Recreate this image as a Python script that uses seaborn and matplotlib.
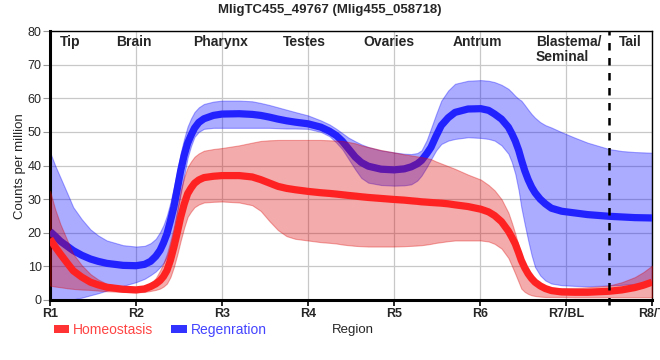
import matplotlib
matplotlib.use("Agg")
import matplotlib.pyplot as plt
import seaborn as sns
import pandas as pd
from matplotlib.patches import Patch

sns.set_theme(style="white")
plt.rcParams['font.family'] = ['Liberation Sans', 'DejaVu Sans']

# ---- data ----
pos = [1.0, 1.06, 1.12, 1.2, 1.27, 1.37, 1.47, 1.56, 1.66, 1.85,
       2.0, 2.1, 2.17, 2.23, 2.28, 2.32, 2.36, 2.40, 2.44, 2.48,
       2.52, 2.56, 2.60, 2.64, 2.68, 2.73, 2.79, 2.9, 3.0, 3.2,
       3.35, 3.45, 3.55, 3.65, 3.75, 3.85, 4.0, 4.15, 4.25, 4.33,
       4.4, 4.47, 4.55, 4.62, 4.7, 4.85, 5.0, 5.12, 5.2, 5.27,
       5.32, 5.38, 5.43, 5.49, 5.55, 5.63, 5.71, 5.86, 6.01, 6.1,
       6.17, 6.25, 6.33, 6.37, 6.41, 6.45, 6.48, 6.52, 6.56, 6.6,
       6.64, 6.7, 6.76, 6.83, 6.95, 7.1, 7.25, 7.5, 7.65, 7.8,
       7.9, 8.0]

regen_mean = [20.4, 19.0, 17.5, 16.0, 14.7, 13.3, 12.2, 11.5, 10.9, 10.3,
              10.2, 10.6, 11.5, 13.0, 14.8, 17.0, 19.7, 23.5, 27.6, 33.0,
              38.5, 43.0, 46.6, 49.0, 51.1, 52.8, 53.9, 54.9, 55.3, 55.4,
              55.2, 54.9, 54.4, 53.8, 53.3, 52.9, 52.4, 51.4, 50.2, 48.9,
              47.2, 45.0, 42.5, 40.9, 39.8, 38.9, 38.7, 39.0, 39.6, 40.5,
              41.5, 43.5, 45.4, 48.8, 51.9, 54.2, 55.8, 56.8, 56.9, 56.4,
              55.3, 53.8, 51.4, 49.5, 47.3, 44.5, 41.8, 38.5, 35.8, 33.6,
              31.9, 30.0, 28.6, 27.3, 26.4, 25.9, 25.4, 24.9, 24.7, 24.5,
              24.45, 24.4]
regen_upper = [44.0, 40.0, 36.5, 31.8, 27.6, 24.0, 21.0, 19.2, 17.7, 16.3,
               15.9, 16.1, 16.9, 18.2, 20.2, 22.3, 25.2, 29.0, 33.5, 38.5,
               43.8, 48.0, 51.6, 54.0, 55.9, 57.3, 58.3, 59.0, 59.3, 59.3,
               59.1, 58.6, 58.0, 57.3, 56.6, 55.9, 54.9, 53.4, 52.2, 50.9,
               49.6, 48.3, 47.2, 46.3, 45.5, 44.5, 43.9, 43.5, 43.4, 43.7,
               44.5, 47.5, 51.0, 55.3, 59.3, 62.3, 64.3, 65.2, 65.4, 65.2,
               64.8, 64.0, 62.8, 61.8, 60.7, 59.8, 59.3, 58.0, 56.6, 55.3,
               54.2, 52.9, 52.0, 51.3, 49.9, 48.3, 46.8, 44.9, 44.3, 44.0,
               43.9, 43.8]
regen_lower = [0.0, 0.0, 0.0, 0.0, 0.2, 0.7, 1.4, 2.0, 2.8, 4.2,
               5.3, 6.3, 7.4, 8.5, 9.8, 11.0, 12.8, 16.0, 20.7, 26.0,
               31.6, 37.0, 42.3, 45.8, 48.5, 50.0, 50.9, 51.2, 51.2, 51.2,
               51.2, 51.2, 51.2, 51.1, 51.0, 51.0, 50.9, 50.0, 48.7, 46.8,
               44.8, 42.0, 38.8, 36.3, 34.9, 34.2, 34.0, 34.1, 34.4, 35.5,
               37.0, 39.5, 41.8, 44.5, 46.4, 47.4, 47.9, 48.4, 48.2, 47.9,
               47.4, 46.0, 43.5, 41.0, 37.5, 32.5, 27.6, 22.5, 17.7, 13.3,
               9.8, 7.3, 5.8, 4.9, 4.4, 4.2, 4.1, 4.3, 4.5, 4.8,
               5.0, 5.2]

homeo_mean = [18.2, 15.8, 13.7, 11.0, 8.7, 6.8, 5.3, 4.5, 3.8, 3.2,
              3.0, 3.3, 4.0, 4.8, 5.8, 7.0, 8.8, 11.8, 15.7, 20.0,
              24.7, 28.5, 31.6, 33.3, 34.7, 35.7, 36.4, 36.8, 37.0, 37.0,
              36.6, 35.8, 34.8, 33.8, 33.2, 32.8, 32.3, 31.9, 31.7, 31.5,
              31.3, 31.1, 30.9, 30.7, 30.5, 30.2, 29.9, 29.7, 29.5, 29.35,
              29.2, 29.1, 29.0, 28.9, 28.8, 28.6, 28.3, 27.8, 27.0, 26.2,
              25.1, 23.3, 20.5, 18.7, 16.7, 14.0, 11.8, 9.6, 7.8, 6.4,
              5.3, 4.2, 3.4, 2.8, 2.4, 2.3, 2.3, 2.6, 3.0, 3.7,
              4.4, 5.3]
homeo_upper = [32.5, 27.0, 22.6, 17.8, 13.7, 10.3, 7.7, 6.1, 4.8, 4.0,
               3.8, 4.2, 5.0, 6.5, 8.8, 11.0, 13.8, 17.5, 21.7, 27.0,
               32.6, 36.5, 39.5, 41.2, 42.6, 43.6, 44.4, 44.9, 45.2, 46.0,
               46.8, 47.3, 47.5, 47.6, 47.6, 47.6, 47.6, 47.6, 47.5, 47.4,
               47.3, 47.0, 46.6, 46.0, 45.5, 44.6, 43.9, 43.3, 43.0, 42.7,
               42.5, 42.2, 41.9, 41.2, 40.6, 39.8, 39.0, 37.3, 35.8, 34.2,
               32.6, 30.0, 26.0, 23.0, 19.7, 16.0, 12.8, 10.0, 7.8, 6.2,
               4.9, 4.0, 3.6, 3.5, 3.5, 3.6, 3.8, 4.3, 5.3, 6.8,
               8.3, 10.2]
homeo_lower = [4.3, 4.0, 3.8, 3.5, 3.3, 3.1, 3.0, 2.8, 2.6, 2.4,
               2.3, 2.4, 2.7, 3.0, 3.4, 4.0, 4.9, 6.8, 9.8, 13.5,
               17.7, 21.5, 24.7, 26.3, 27.6, 28.4, 29.0, 29.2, 29.3, 29.0,
               28.2, 26.5, 23.5, 20.8, 19.0, 18.2, 17.7, 17.2, 17.0, 16.8,
               16.5, 16.3, 16.1, 16.0, 15.9, 15.9, 15.9, 16.0, 16.1, 16.2,
               16.3, 16.5, 16.7, 17.0, 17.2, 17.5, 17.7, 17.7, 17.7, 17.4,
               16.7, 15.3, 12.5, 10.2, 7.8, 5.3, 3.4, 2.4, 1.8, 1.4,
               1.2, 1.0, 0.9, 0.9, 0.9, 0.8, 0.8, 0.8, 0.8, 0.8,
               0.8, 0.8]

tick_pos = [1, 2, 3, 4, 5, 6, 7, 8]
tick_labels = ["R1", "R2", "R3", "R4", "R5", "R6", "R7/BL", "R8/T"]
region_names = ["Tip", "Brain", "Pharynx", "Testes", "Ovaries", "Antrum", "Blastema/\nSeminal", "Tail"]
region_pos = [1.23, 1.97, 2.98, 3.96, 4.94, 5.97, 6.65, 7.75]
region_ha = ["center", "center", "center", "center", "center", "center", "left", "center"]
tail_boundary = 7.5
series_names = ["Homeostasis", "Regenration"]

df = pd.concat([
    pd.DataFrame({"pos": pos, "cpm": homeo_mean, "cond": series_names[0]}),
    pd.DataFrame({"pos": pos, "cpm": regen_mean, "cond": series_names[1]}),
])

RED = "#ff2222"
BLUE = "#2222ff"

fig = plt.figure(figsize=(6.6, 3.6), dpi=100)
ax = fig.add_axes([50 / 660, 1 - 300 / 360, 602 / 660, 269 / 360])

ax.set_axisbelow(True)
ax.grid(True, color="#c8c8c8", linewidth=0.9)

line_kw = dict(linewidth=5.2, estimator=None, sort=False, legend=False,
               solid_joinstyle="round", solid_capstyle="butt")

# regeneration band + line
ax.fill_between(pos, regen_lower, regen_upper, facecolor="#0000ff", alpha=0.33,
                edgecolor="#0000ff", linewidth=0.8, zorder=2)
sns.lineplot(data=df[df.cond == series_names[1]], x="pos", y="cpm", color=BLUE,
             ax=ax, zorder=3, **line_kw)
# homeostasis band + line
ax.fill_between(pos, homeo_lower, homeo_upper, facecolor="#dd0000", alpha=0.33,
                edgecolor="#dd0000", linewidth=0.8, zorder=4)
sns.lineplot(data=df[df.cond == series_names[0]], x="pos", y="cpm", color=RED,
             ax=ax, zorder=5, **line_kw)

ax.axvline(tail_boundary, ymin=-0.02, ymax=1, color="black", linestyle=(0, (3, 3)),
           linewidth=1.8, zorder=6, clip_on=False)

ax.set_xlim(1, 8)
ax.set_ylim(0, 80)
ax.set_xticks(tick_pos)
ax.set_xticklabels(tick_labels, fontsize=9, fontweight="bold")
ax.set_yticks(range(0, 81, 10))
ax.tick_params(axis="x", direction="out", length=4, width=1.2, color="black", pad=2,
               bottom=True)
ax.tick_params(axis="y", direction="out", length=5, width=0.8, color="#999999", pad=1,
               labelsize=9, left=True)
ax.set_xlabel("")
ax.set_ylabel("")
fig.text(20 / 660, 1 - 166 / 360, "Counts per million", rotation=90, ha="center",
         va="center", fontsize=9.5)

for side in ["left", "bottom"]:
    ax.spines[side].set_linewidth(2.2)
    ax.spines[side].set_color("black")
for side in ["top", "right"]:
    ax.spines[side].set_linewidth(1.0)
    ax.spines[side].set_color("black")
    ax.spines[side].set_visible(True)

for name, x, ha in zip(region_names, region_pos, region_ha):
    ax.text(x, 78.8, name, ha=ha, va="top", fontsize=10, fontweight="bold",
            linespacing=1.05, zorder=7)

fig.text(0.5, 1 - 10 / 360, "MligTC455_49767 (Mlig455_058718)", ha="center", va="center",
         fontsize=9.5, fontweight="bold")
fig.text(353 / 660, 1 - 330 / 360, "Region", ha="center", va="center", fontsize=9.5)

handles = [Patch(facecolor="#ff3333", edgecolor="none"),
           Patch(facecolor="#3333ff", edgecolor="none")]
leg = fig.legend(handles, series_names, loc="center left",
                 bbox_to_anchor=(41 / 660, 1 - 330 / 360), ncol=2, frameon=False,
                 handlelength=1.15, handleheight=0.45, handletextpad=0.25, columnspacing=1.3,
                 prop={"size": 10})
for txt, c in zip(leg.get_texts(), ["#ff4444", "#4444ff"]):
    txt.set_color(c)

fig.savefig("out.png", dpi=100)
